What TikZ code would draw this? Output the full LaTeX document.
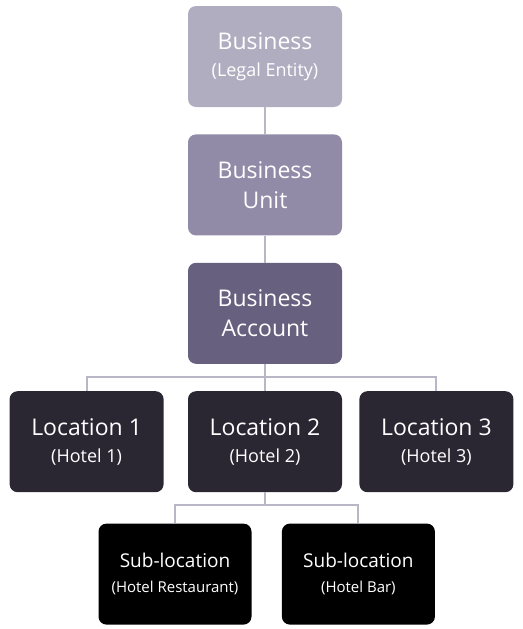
\documentclass[tikz,border=0pt]{standalone}
\usepackage{fontspec}
\setmainfont{Open Sans}
\usetikzlibrary{positioning}

\definecolor{entityfill}{HTML}{B1ADC1}
\definecolor{unitfill}{HTML}{918BA8}
\definecolor{accountfill}{HTML}{67607E}
\definecolor{locfill}{HTML}{2A2733}
\definecolor{linkcol}{HTML}{B9B6C6}

\newcommand{\paren}[1]{{\fontsize{18}{22}\selectfont #1}}
\newcommand{\subparen}[1]{{\fontsize{15}{21}\selectfont #1}}

\begin{document}
\begin{tikzpicture}[
	box/.style={rectangle, rounded corners=8pt, minimum width=154pt, minimum height=101pt, inner sep=0pt, align=center, text=white, font=\fontsize{23}{30}\selectfont},
	entity/.style={box, fill=entityfill},
	unit/.style={box, fill=unitfill},
	account/.style={box, fill=accountfill},
	loc/.style={box, fill=locfill},
	subloc/.style={box, fill=black, minimum width=153pt, font=\fontsize{19}{25}\selectfont},
	link/.style={draw=linkcol, line width=2pt},
	node distance=27pt
]
	\useasboundingbox (0,0) rectangle (522pt,-629pt);

	\node[entity] (ent) at (265pt,-56.5pt) {Business\\[-3pt]\paren{(Legal Entity)}};
	\node[unit, below=of ent] (unit) {Business\\Unit};
	\node[account, below=of unit] (acct) {Business\\Account};
	\node[loc, below=of acct] (loc2) {Location 2\\[-3pt]\paren{(Hotel 2)}};
	\node[loc, left=24pt of loc2] (loc1) {Location 1\\[-3pt]\paren{(Hotel 1)}};
	\node[loc, right=17pt of loc2] (loc3) {Location 3\\[-3pt]\paren{(Hotel 3)}};
	\node[subloc, below=31pt of loc2, xshift=-90pt] (sub1) {Sub-location\\\subparen{(Hotel Restaurant)}};
	\node[subloc, right=30pt of sub1] (sub2) {Sub-location\\\subparen{(Hotel Bar)}};

	\coordinate[below=13pt of acct] (bus1);
	\coordinate[below=13pt of loc2] (bus2);

	\draw[link] (ent) -- (unit);
	\draw[link] (unit) -- (acct);
	\draw[link] (acct) -- (loc2);
	\draw[link] (bus1) -| (loc1);
	\draw[link] (bus1) -| (loc3);
	\draw[link] (loc2) -- (bus2);
	\draw[link] (bus2) -| (sub1);
	\draw[link] (bus2) -| (sub2);
\end{tikzpicture}
\end{document}
